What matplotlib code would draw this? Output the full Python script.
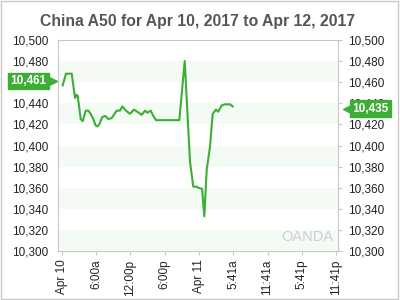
import matplotlib
matplotlib.use("Agg")
import matplotlib.pyplot as plt
import matplotlib.transforms as mtransforms
from matplotlib.patches import Rectangle

plt.rcParams['font.family'] = ['Liberation Sans', 'DejaVu Sans']

title = "China A50 for Apr 10, 2017 to Apr 12, 2017"

# hours since Apr 10 00:00
hours = [0.12, 0.70, 1.70, 2.28, 2.57, 2.75, 3.28, 3.63, 4.15, 4.61, 5.03, 5.48,
         5.90, 6.18, 6.53, 7.06, 7.59, 8.11, 8.71, 9.58, 10.16, 10.56, 11.21, 11.91,
         12.61, 13.19, 13.96, 14.54, 14.94, 15.54, 15.89, 16.47, 20.55, 21.50, 22.42,
         23.00, 23.60, 23.88, 24.53, 24.93, 25.35, 25.93, 26.40, 26.98, 27.38, 27.98,
         28.55, 29.43, 29.90]
price = [10457, 10468, 10468, 10445, 10448, 10447, 10425, 10423, 10433, 10433, 10430, 10425,
         10419, 10418, 10420, 10427, 10428, 10425, 10426, 10433, 10433, 10437, 10433, 10430,
         10434, 10432, 10429, 10433, 10431, 10433, 10429, 10424, 10424, 10480, 10385,
         10361, 10361, 10360, 10359, 10333, 10377, 10399, 10430, 10434, 10432, 10438,
         10439, 10439, 10437]

tick_hours = [0, 6, 12, 18, 24, 30, 36, 42, 48]
tick_labels = ["Apr 10", "6:00a", "12:00p", "6:00p", "Apr 11", "5:41a", "11:41a", "5:41p", "11:41p"]
y_ticks = list(range(10300, 10501, 20))
open_price = 10461
last_price = 10435

green = '#3cae35'
grey = '#c8c8c8'

fig = plt.figure(figsize=(4, 3), dpi=100)
fig.patches.append(Rectangle((0.002, 0.003), 0.994, 0.994, transform=fig.transFigure,
                             fill=False, edgecolor=grey, linewidth=1))
ax = fig.add_axes([0.145, 0.163, 0.70, 0.704])

# alternating bands
for lo in range(10300, 10500, 40):
    ax.axhspan(lo, lo + 20, color='#f4faf4', zorder=0, linewidth=0)

ax.plot(hours, price, color=green, linewidth=1.5, zorder=3)

ax.set_xlim(-0.7, 48.35)
ax.set_ylim(10300, 10500)
ax.set_yticks(y_ticks)
ax.set_yticklabels([f"{v:,}" for v in y_ticks])
ax.set_xticks(tick_hours)
ax.set_xticklabels(tick_labels, rotation=90)

ax.tick_params(axis='y', left=False, right=True, labelleft=True, labelright=True,
               labelsize=8.5, colors='#222222', length=3, pad=4)
ax.tick_params(axis='y', which='both', color=grey)
ax.tick_params(axis='x', labelsize=8.5, length=3, color=grey, labelcolor='#222222', pad=3)
for s in ax.spines.values():
    s.set_color(grey)

ax.set_title(title, fontsize=11.3, fontweight='bold', color='#555555', pad=10)

ax.text(0.985, 0.035, "OANDA", transform=ax.transAxes, ha='right', va='bottom',
        fontsize=10.5, color='#d0d0d0')

# price flags: box + small triangle tip
blend = mtransforms.blended_transform_factory(ax.transAxes, ax.transData)


def flag(y, side, label):
    if side == 'left':
        tip = mtransforms.offset_copy(blend, fig=fig, x=-4.5, y=0, units='points')
        ax.plot([0], [y], marker='>', ms=7, color=green, mec=green, transform=tip,
                clip_on=False, zorder=5)
        ax.annotate(label, xy=(0, y), xycoords=blend, xytext=(-8.5, 0),
                    textcoords='offset points', ha='right', va='center',
                    fontsize=8.5, fontweight='bold', color='white', annotation_clip=False,
                    bbox=dict(boxstyle='square,pad=0.2', fc=green, ec=green))
    else:
        tip = mtransforms.offset_copy(blend, fig=fig, x=7, y=0, units='points')
        ax.plot([1], [y], marker='<', ms=7, color=green, mec=green, transform=tip,
                clip_on=False, zorder=5)
        ax.annotate(label, xy=(1, y), xycoords=blend, xytext=(10.5, 0),
                    textcoords='offset points', ha='left', va='center',
                    fontsize=8.5, fontweight='bold', color='white', annotation_clip=False,
                    bbox=dict(boxstyle='square,pad=0.2', fc=green, ec=green))


flag(open_price, 'left', f"{open_price:,}")
flag(last_price, 'right', f"{last_price:,}")

fig.savefig("out.png", dpi=100)
